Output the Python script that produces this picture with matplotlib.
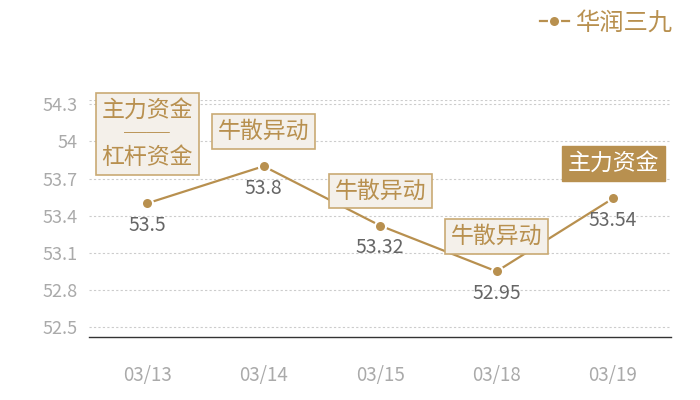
import matplotlib
matplotlib.use('Agg')
import matplotlib.pyplot as plt

plt.rcParams['font.family'] = ['Noto Sans CJK SC', 'DejaVu Sans']

# 数据
dates = ['03/13', '03/14', '03/15', '03/18', '03/19']
prices = [53.5, 53.8, 53.32, 52.95, 53.54]
tags = ['主力资金\n──\n杠杆资金', '牛散异动', '牛散异动', '牛散异动', '主力资金']
tag_filled = [False, False, False, False, True]
yticks = [52.5, 52.8, 53.1, 53.4, 53.7, 54.0, 54.3]
ytick_labels = ['52.5', '52.8', '53.1', '53.4', '53.7', '54', '54.3']
series_name = '华润三九'

gold = '#b8904f'
box_bg = '#f4f0ea'
box_edge = '#c9aa74'

fig = plt.figure(figsize=(7, 4), dpi=100)
ax = fig.add_axes([0.127, 0.1575, 0.832, 0.5925])

x = list(range(len(dates)))
ax.plot(x, prices, color=gold, lw=1.6, marker='o', ms=8, mfc=gold,
        mec='white', mew=1.5, zorder=3, label=series_name)

ax.set_xlim(-0.5, len(dates) - 0.5)
ax.set_ylim(52.42, 54.335)
ax.set_yticks(yticks)
ax.set_yticklabels(ytick_labels)
ax.set_xticks(x)
ax.set_xticklabels(dates)
ax.tick_params(axis='both', length=0, colors='#aaaaaa', labelsize=13)
ax.tick_params(axis='x', labelsize=13.5, pad=20)
ax.tick_params(axis='y', pad=8)

for y in yticks + [54.335]:
    ax.axhline(y, color='#cccccc', lw=0.8, ls=(0, (2, 2)), zorder=1)

for s in ['top', 'right', 'left']:
    ax.spines[s].set_visible(False)
ax.spines['bottom'].set_color('#333333')
ax.spines['bottom'].set_linewidth(1.0)

# 数值标签
for i, v in enumerate(prices):
    ax.annotate(f'{v:g}', (i, v), xytext=(0, -16), textcoords='offset points',
                ha='center', va='center', fontsize=14, color='#666666', zorder=4)

# 标签框
for i, (t, filled) in enumerate(zip(tags, tag_filled)):
    dy = 50 if '\n' in t else 25
    if filled:
        bbox = dict(boxstyle='square,pad=0.25', fc=gold, ec=gold, lw=1)
        tc = 'white'
    else:
        bbox = dict(boxstyle='square,pad=0.25', fc=box_bg, ec=box_edge, lw=1.2)
        tc = gold
    ax.annotate(t, (i, prices[i]), xytext=(0, dy), textcoords='offset points',
                ha='center', va='center', fontsize=16.5, color=tc,
                linespacing=1.05, bbox=bbox, zorder=5)

leg = fig.legend(loc='upper right', bbox_to_anchor=(0.993, 1.03), frameon=False,
                 fontsize=17.5, handlelength=1.2, handletextpad=0.3)
for txt in leg.get_texts():
    txt.set_color(gold)

fig.savefig('out.png', dpi=100)
